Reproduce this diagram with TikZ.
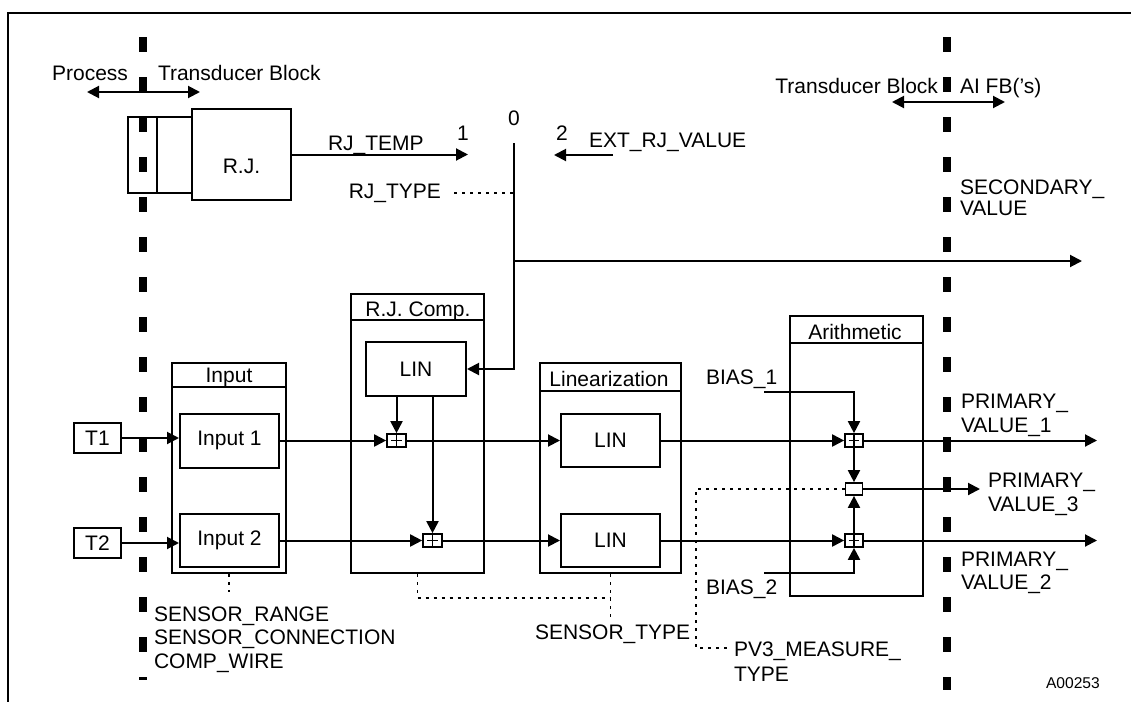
\documentclass[tikz,border=0pt]{standalone}
\usepackage{fontspec}
\setmainfont{Liberation Sans}
\usetikzlibrary{arrows.meta}
\begin{document}
\begin{tikzpicture}[x=0.5pt,y=-0.5pt,
  font=\fontsize{10.5pt}{12.6pt}\selectfont,
  line width=1pt,
  box/.style={draw, inner sep=0pt},
  adder/.style={draw, inner sep=0pt, line width=0.85pt},
  plus/.style={path picture={\draw[line width=0.55pt]
      ([xshift=-2.7pt]path picture bounding box.center) -- ([xshift=2.7pt]path picture bounding box.center)
      ([yshift=-2.7pt]path picture bounding box.center) -- ([yshift=2.7pt]path picture bounding box.center);}},
  arr/.style={-{Triangle[length=6pt,width=6pt]}},
  darr/.style={{Triangle[length=6pt,width=6pt]}-{Triangle[length=6pt,width=6pt]}},
  dot/.style={line width=0.8pt, dash pattern=on 1.5pt off 2.5pt},
  sep/.style={line width=4pt, dash pattern=on 7.5pt off 12.5pt},
  lbl/.style={inner sep=0pt},
  ml/.style={inner sep=0pt, align=left, anchor=base west}
]
\useasboundingbox (0,0) rectangle (1131,702);
% frame
\draw[line width=1.4pt] (8,702) -- (8,13) -- (1131,13);

% top labels
\node[lbl, anchor=base east] (lproc) at (129,80) {Process};
\node[lbl, anchor=base west] (ltb1) at (157,80) {Transducer Block};
\coordinate (da1) at (87,92);
\coordinate (da2) at (200,92);
\draw[darr] (da1) -- (da2);
\node[lbl, anchor=base east] (ltb2) at (939,93) {Transducer Block};
\node[lbl, anchor=base west] (lai) at (959,93) {AI FB('s)};
\coordinate (db1) at (892,102);
\coordinate (db2) at (1005,102);
\draw[darr] (db1) -- (db2);

% R.J. assembly
\node[box, minimum width=32pt, minimum height=38pt] (rjs) at (160,155) {};
\draw ([xshift=15pt]rjs.north west) -- ([xshift=15pt]rjs.south west);
\node[box, minimum width=49.5pt, minimum height=45.5pt, text height=18.5pt, text depth=0pt] (rj) at (241.5,154.5) {R.J.};

% switch
\node[lbl, anchor=base west] (lrjt) at (327,150) {RJ\_TEMP};
\node[lbl, anchor=base] (l1) at (463,140) {1};
\node[lbl, anchor=base] (l0) at (514,125) {0};
\node[lbl, anchor=base] (l2) at (562,140) {2};
\node[lbl, anchor=base west] (lext) at (588,147) {EXT\_RJ\_VALUE};
\node[lbl, anchor=base east] (lrjtype) at (442,198) {RJ\_TYPE};
\coordinate (sw1) at (468,155);
\coordinate (ext) at (613,155);
\coordinate (sw2) at (554,155);
\coordinate (sw0) at (514,143);
\coordinate (br) at (514,261);
\coordinate (sec) at (1082,261);
\coordinate (rjt) at (454,193);
\draw[arr] (rj.east) -- (rj.east -| sw1);
\draw[arr] (ext) -- (sw2);
\draw[dot] (rjt) -- (rjt -| sw0);
\draw[arr] (br) -- (sec);
\node[ml, font=\fontsize{10.5pt}{9pt}\selectfont] (lsec) at (959,215) {SECONDARY\_\\VALUE};

% T inputs
\node[box, minimum width=23.5pt, minimum height=15pt] (t1) at (97.5,438) {T1};
\node[box, minimum width=23.5pt, minimum height=15pt] (t2) at (97.5,543) {T2};

% Input block
\node[box, minimum width=57pt, minimum height=105pt] (inp) at (229,468) {};
\draw ([yshift=-12.5pt]inp.north west) -- ([yshift=-12.5pt]inp.north east);
\node[lbl, anchor=base] (linp) at (229,382) {Input};
\node[box, minimum width=49.5pt, minimum height=27pt] (in1) at (229.5,440.5) {Input 1};
\node[box, minimum width=49.5pt, minimum height=26.5pt] (in2) at (229.5,540.5) {Input 2};

% R.J. Comp. block
\node[box, minimum width=66.5pt, minimum height=139.5pt] (rjc) at (417.5,433.5) {};
\draw ([yshift=-13.5pt]rjc.north west) -- ([yshift=-13.5pt]rjc.north east);
\node[lbl, anchor=base] (lrjc) at (418,316) {R.J. Comp.};
\node[box, minimum width=50pt, minimum height=27pt] (lin0) at (416,369) {LIN};
\node[adder, plus, minimum width=9.5pt, minimum height=6.5pt] (ad1) at (396.5,440.5) {};
\node[adder, plus, minimum width=9.5pt, minimum height=6.5pt] (ad2) at (432.5,540.5) {};

% Linearization block
\node[box, minimum width=70.5pt, minimum height=105pt] (lio) at (610.5,468) {};
\draw ([yshift=-14.5pt]lio.north west) -- ([yshift=-14.5pt]lio.north east);
\node[lbl, anchor=base] (llio) at (609,386) {Linearization};
\node[box, minimum width=49.5pt, minimum height=26.5pt] (lin1) at (610.5,440.5) {LIN};
\node[box, minimum width=49.5pt, minimum height=26.5pt] (lin2) at (610.5,540.5) {LIN};

% Arithmetic block
\node[box, minimum width=66.5pt, minimum height=140pt] (ari) at (856.5,456) {};
\draw ([yshift=-14pt]ari.north west) -- ([yshift=-14pt]ari.north east);
\node[lbl, anchor=base] (lari) at (855,339) {Arithmetic};
\node[adder, plus, minimum width=9pt, minimum height=6.5pt] (ar1) at (854,440.5) {};
\node[adder, minimum width=8.5pt, minimum height=6pt] (mid) at (854,489) {};
\node[adder, plus, minimum width=9pt, minimum height=6.5pt] (ar2) at (854,540.5) {};

% switch to LIN
\draw[arr] (sw0) |- (lin0.east);

% signal rows
\draw[arr] (t1.east) -- (t1.east -| in1.west);
\draw[arr] (t2.east) -- (t2.east -| in2.west);
\draw[arr] (in1.east) -- (ad1.west);
\draw[arr] (in2.east) -- (ad2.west);
\draw[arr] (lin0.south -| ad1.north) -- (ad1.north);
\draw[arr] (lin0.south -| ad2.north) -- (ad2.north);
\draw[arr] (ad1.east) -- (lin1.west);
\draw[arr] (ad2.east) -- (lin2.west);
\draw[arr] (lin1.east) -- (ar1.west);
\draw[arr] (lin2.east) -- (ar2.west);
\coordinate (out1) at (1097,440.5);
\coordinate (out2) at (1097,540.5);
\coordinate (out3) at (980,489);
\draw[arr] (ar1.east) -- (out1);
\draw[arr] (ar2.east) -- (out2);
\draw[arr] (ar1.south) -- (mid.north);
\draw[arr] (ar2.north) -- (mid.south);
\draw[arr] (mid.east) -- (out3);

% bias
\node[lbl, anchor=base west] (lb1) at (705,384) {BIAS\_1};
\node[lbl, anchor=base west] (lb2) at (705,594) {BIAS\_2};
\coordinate (b1) at (764,392);
\coordinate (b2) at (764,573);
\draw[arr] (b1) -| (ar1.north);
\draw[arr] (b2) -| (ar2.south);

% output labels
\node[ml, font=\fontsize{10.5pt}{12pt}\selectfont] (lpv1) at (960,432) {PRIMARY\_\\VALUE\_1};
\node[ml, font=\fontsize{10.5pt}{12pt}\selectfont] (lpv3) at (987,511) {PRIMARY\_\\VALUE\_3};
\node[ml, font=\fontsize{10.5pt}{11.5pt}\selectfont] (lpv2) at (960,589) {PRIMARY\_\\VALUE\_2};

% parameter dotted lines
\coordinate (sr) at (229,592);
\draw[dot] (inp.south) -- (sr);
\node[ml, font=\fontsize{10.5pt}{11.75pt}\selectfont] (lsens) at (153,668) {SENSOR\_RANGE\\SENSOR\_CONNECTION\\COMP\_WIRE};
\coordinate (stc) at (610.5,598);
\coordinate (stt) at (610.5,617);
\draw[dot] (rjc.south) |- (stc);
\draw[dot] (lio.south) -- (stt);
\node[lbl, anchor=base west] (lst) at (534,639) {SENSOR\_TYPE};
\coordinate (pvc) at (696,648);
\coordinate (pv) at (727,648);
\draw[dot] (mid.west) -| (pvc) -- (pv);
\node[ml, font=\fontsize{10.5pt}{12.25pt}\selectfont] (lpv3m) at (733,681) {PV3\_MEASURE\_\\TYPE};

\node[lbl, anchor=base west, font=\fontsize{7.8pt}{9pt}\selectfont] (lid) at (1045,688) {A00253};

% separators
\draw[sep] (143,37) -- (143,680);
\draw[sep] (947,37) -- (947,690);
\end{tikzpicture}
\end{document}
